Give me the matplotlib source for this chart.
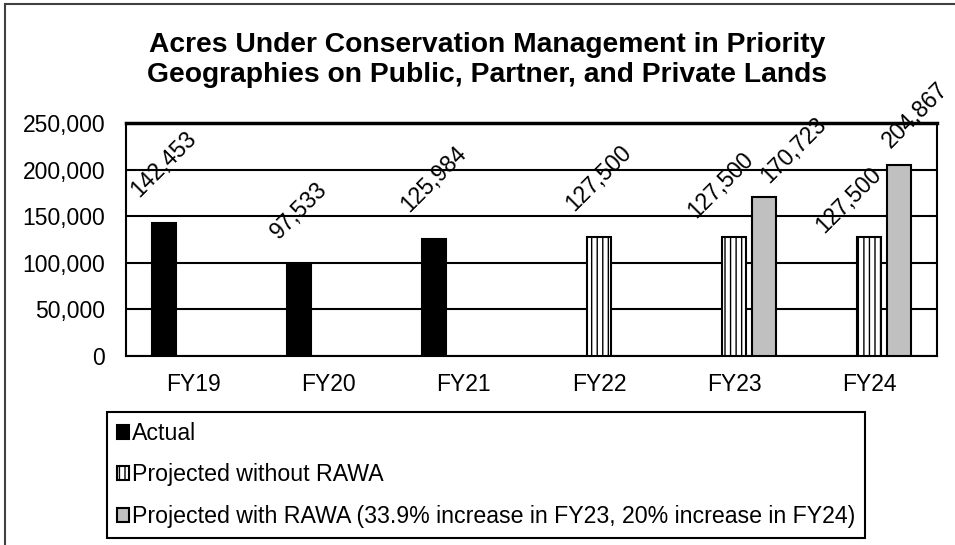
import numpy as np
import matplotlib.pyplot as plt
from matplotlib.patches import Rectangle

plt.rcParams['font.family'] = ['Liberation Sans', 'DejaVu Sans']

years = ['FY19', 'FY20', 'FY21', 'FY22', 'FY23', 'FY24']
actual = [142453, 97533, 125984, None, None, None]
proj_without = [None, None, None, 127500, 127500, 127500]
proj_with = [None, None, None, None, 170723, 204867]

series_names = ['Actual', 'Projected without RAWA',
                'Projected with RAWA (33.9% increase in FY23, 20% increase in FY24)']

# label nudges (pixels) where excel moved labels to avoid overlap
label_shift = {(1, 4): (-14, -7), (2, 4): (29, -13),
               (1, 5): (-21, -22), (2, 5): (16, -9)}

W, H = 955, 545
fig = plt.figure(figsize=(W / 100, H / 100), dpi=100)
ax = fig.add_axes([126 / W, 1 - 356 / H, (937 - 126) / W, (356 - 123) / H])

x = np.arange(len(years))
bw = 0.178
off = 0.222

def draw(k, vals, dx, **kw):
    idx = [i for i, v in enumerate(vals) if v is not None]
    xs = [x[i] + dx for i in idx]
    vs = [vals[i] for i in idx]
    bars = ax.bar(xs, vs, width=bw, edgecolor='black', linewidth=1.5, zorder=3, **kw)
    for i, xi, v in zip(idx, xs, vs):
        sx, sy = label_shift.get((k, i), (0, 0))
        ax.annotate(f'{v:,}', (xi, v), xytext=(sx, 22 + sy), textcoords='offset pixels',
                    rotation=45, ha='center', va='bottom', fontsize=16.5, zorder=5)
    return bars

b1 = draw(0, actual, -off, color='black', label=series_names[0])
b2 = draw(1, proj_without, 0, color='white', hatch='|||', label=series_names[1])
b3 = draw(2, proj_with, off, color='#c0c0c0', label=series_names[2])

ax.set_xlim(-0.5, len(years) - 0.5)
ax.set_ylim(0, 250000)
ax.set_yticks(np.arange(0, 250001, 50000))
ax.set_yticklabels([f'{v:,}' for v in range(0, 250001, 50000)])
ax.set_xticks(x)
ax.set_xticklabels(years)
ax.tick_params(axis='y', length=0, pad=15, labelsize=16.5)
ax.tick_params(axis='x', length=0, pad=12, labelsize=16.5)
ax.grid(axis='y', color='black', linewidth=1.5, zorder=0)
ax.set_axisbelow(True)
for side in ['left', 'bottom', 'right']:
    ax.spines[side].set_linewidth(1.5)
ax.spines['top'].set_linewidth(2.5)

fig.text(487 / W, 1 - 60 / H,
         'Acres Under Conservation Management in Priority\nGeographies on Public, Partner, and Private Lands',
         ha='center', va='center', fontsize=20.3, fontweight='bold', linespacing=1.15)

leg = fig.legend(handles=[b1, b2, b3], loc='upper left',
                 bbox_to_anchor=(107 / W, 1 - 412 / H), borderaxespad=0,
                 fontsize=16.7, handlelength=0.55, handleheight=0.55, handletextpad=0.1,
                 labelspacing=0.8, borderpad=0.42, fancybox=False, framealpha=1,
                 edgecolor='black')
leg.get_frame().set_linewidth(1.5)

fig.patches.append(Rectangle((5 / W, -0.1), 1.2, 1.1 - 4.5 / H, transform=fig.transFigure,
                             fill=False, edgecolor='#404040', linewidth=1.5))

fig.savefig('out.png', dpi=100)
